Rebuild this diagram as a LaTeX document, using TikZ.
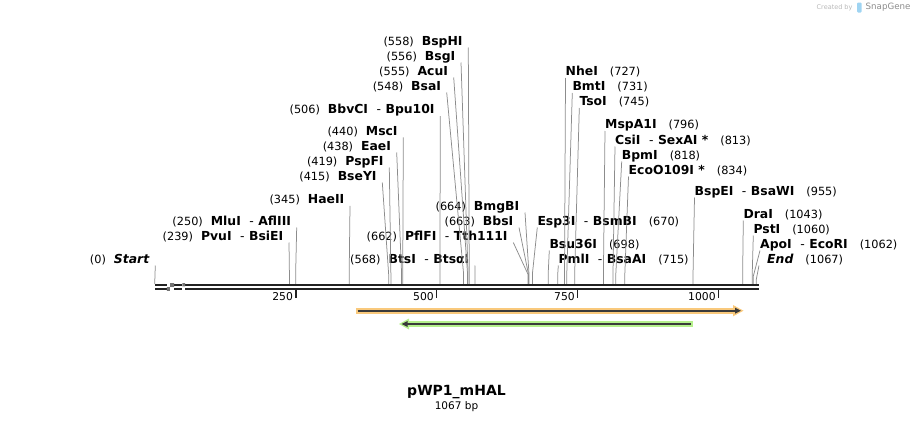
\documentclass[tikz,border=0pt]{standalone}
\usepackage{fontspec}
\setmainfont{DejaVu Sans}
\usetikzlibrary{arrows.meta,patterns}
\definecolor{rulerblack}{HTML}{222222}
\definecolor{cutgray}{HTML}{8C8C8C}
\definecolor{featorange}{HTML}{F9C97C}
\definecolor{featgreen}{HTML}{B5F08C}
\definecolor{featline}{HTML}{3A3A3A}
\definecolor{sgblue}{HTML}{9FD4F2}
\newcommand{\bpx}[1]{154.7+0.5637*#1}
\newcommand{\cutpos}[1]{{\fontsize{11.3}{13}\selectfont\mdseries(#1)}}
\newcommand{\enz}[1]{\textbf{#1}}
\newcommand{\sepr}{\hspace{8.5pt}-\hspace{4.5pt}}
\tikzset{
  cut/.style={draw=cutgray,line width=0.75pt},
  leftsite/.style={anchor=south east,inner xsep=5.5pt,inner ysep=0pt,text depth=2pt,font=\fontsize{12.4}{14}\selectfont},
  rightsite/.style={anchor=south west,inner xsep=0pt,inner ysep=0pt,text depth=2pt,font=\fontsize{12.4}{14}\selectfont},
  ruler/.style={draw=rulerblack,line width=2.4pt},
  tick/.style={draw=rulerblack,line width=1.8pt},
}
\begin{document}
\begin{tikzpicture}[x=1pt,y=-1pt]
\useasboundingbox (0,0) rectangle (914,423);
% sites on the sequence
\foreach \b in {0,239,250,345,415,419,438,440,506,548,555,556,558,568,662,663,664,670,698,715,727,731,745,796,813,818,834,955,1043,1060,1062,1067}
  \coordinate (s\b) at ({\bpx{\b}},284);
% left hand labels
\node[leftsite] (bsphi) at (468.3,47.5) {\cutpos{558}\hspace{8pt}\enz{BspHI}};
\node[leftsite] (bsgi) at (461,62.5) {\cutpos{556}\hspace{8pt}\enz{BsgI}};
\node[leftsite] (acui) at (453.7,77.5) {\cutpos{555}\hspace{8pt}\enz{AcuI}};
\node[leftsite] (bsai) at (446.7,92.5) {\cutpos{548}\hspace{8pt}\enz{BsaI}};
\node[leftsite] (bbvci) at (440.3,116) {\cutpos{506}\hspace{8pt}\enz{BbvCI}\sepr\enz{Bpu10I}};
\node[leftsite] (msci) at (403.3,137.3) {\cutpos{440}\hspace{8pt}\enz{MscI}};
\node[leftsite] (eaei) at (396.7,152.5) {\cutpos{438}\hspace{8pt}\enz{EaeI}};
\node[leftsite] (pspfi) at (389.3,167.5) {\cutpos{419}\hspace{8pt}\enz{PspFI}};
\node[leftsite] (bseyi) at (382.3,182.5) {\cutpos{415}\hspace{8pt}\enz{BseYI}};
\node[leftsite] (haeii) at (350,205.8) {\cutpos{345}\hspace{8pt}\enz{HaeII}};
\node[leftsite] (mlui) at (296.7,227.5) {\cutpos{250}\hspace{8pt}\enz{MluI}\sepr\enz{AflIII}};
\node[leftsite] (pvui) at (289,242.5) {\cutpos{239}\hspace{8pt}\enz{PvuI}\sepr\enz{BsiEI}};
\node[leftsite] (start) at (155.3,265.5) {\cutpos{0}\hspace{8pt}\enz{\itshape Start}};
\node[leftsite] (bmgbi) at (525,212.5) {\cutpos{664}\hspace{8pt}\enz{BmgBI}};
\node[leftsite] (bbsi) at (519,227.5) {\cutpos{663}\hspace{8pt}\enz{BbsI}};
\node[leftsite] (pflfi) at (513.3,242.5) {\cutpos{662}\hspace{8pt}\enz{PflFI}\sepr\enz{Tth111I}};
\node[leftsite] (btsi) at (475,265.5) {\cutpos{568}\hspace{8pt}\enz{BtsI}\sepr\enz{BtsαI}};
% right hand labels
\node[rightsite] (nhei) at (565.5,78) {\enz{NheI}\hspace{12pt}\cutpos{727}};
\node[rightsite] (bmti) at (572.3,93) {\enz{BmtI}\hspace{12pt}\cutpos{731}};
\node[rightsite] (tsoi) at (579.3,108) {\enz{TsoI}\hspace{12pt}\cutpos{745}};
\node[rightsite] (mspa) at (605,131) {\enz{MspA1I}\hspace{12pt}\cutpos{796}};
\node[rightsite] (csii) at (615,146.5) {\enz{CsiI}\sepr\enz{SexAI *}\hspace{12pt}\cutpos{813}};
\node[rightsite] (bpmi) at (621.7,161.5) {\enz{BpmI}\hspace{12pt}\cutpos{818}};
\node[rightsite] (ecoo) at (628.5,176.5) {\enz{EcoO109I *}\hspace{12pt}\cutpos{834}};
\node[rightsite] (bspei) at (694.5,197.5) {\enz{BspEI}\sepr\enz{BsaWI}\hspace{12pt}\cutpos{955}};
\node[rightsite] (esp) at (537.3,227.5) {\enz{Esp3I}\sepr\enz{BsmBI}\hspace{12pt}\cutpos{670}};
\node[rightsite] (bsui) at (549.3,250.5) {\enz{Bsu36I}\hspace{12pt}\cutpos{698}};
\node[rightsite] (pmli) at (558.3,265.5) {\enz{PmlI}\sepr\enz{BsaAI}\hspace{12pt}\cutpos{715}};
\node[rightsite] (drai) at (743.3,220.5) {\enz{DraI}\hspace{12pt}\cutpos{1043}};
\node[rightsite] (psti) at (753.3,235.5) {\enz{PstI}\hspace{12pt}\cutpos{1060}};
\node[rightsite] (apoi) at (760,250.5) {\enz{ApoI}\sepr\enz{EcoRI}\hspace{12pt}\cutpos{1062}};
\node[rightsite] (endsite) at (767,265.5) {\enz{\itshape End}\hspace{12pt}\cutpos{1067}};
% connectors
\draw[cut] (bsphi.south east) -- ([yshift=10pt]s558) -- (s558);
\draw[cut] (bsgi.south east) -- ([yshift=10pt]s556) -- (s556);
\draw[cut] (acui.south east) -- ([yshift=10pt]s555) -- (s555);
\draw[cut] (bsai.south east) -- ([yshift=10pt]s548) -- (s548);
\draw[cut] (bbvci.south east) -- ([yshift=10pt]s506) -- (s506);
\draw[cut] (msci.south east) -- ([yshift=10pt]s440) -- (s440);
\draw[cut] (eaei.south east) -- ([yshift=10pt]s438) -- (s438);
\draw[cut] (pspfi.south east) -- ([yshift=10pt]s419) -- (s419);
\draw[cut] (bseyi.south east) -- ([yshift=10pt]s415) -- (s415);
\draw[cut] (haeii.south east) -- ([yshift=10pt]s345) -- (s345);
\draw[cut] (mlui.south east) -- ([yshift=10pt]s250) -- (s250);
\draw[cut] (pvui.south east) -- ([yshift=10pt]s239) -- (s239);
\draw[cut] (start.south east) -- (s0);
\draw[cut] (bmgbi.south east) -- ([yshift=10pt]s664) -- (s664);
\draw[cut] (bbsi.south east) -- ([yshift=10pt]s663) -- (s663);
\draw[cut] (pflfi.south east) -- ([yshift=10pt]s662) -- (s662);
\draw[cut] (btsi.south east) -- ([yshift=10pt]s568) -- (s568);
\draw[cut] (nhei.south west) -- ([yshift=10pt]s727) -- (s727);
\draw[cut] (bmti.south west) -- ([yshift=10pt]s731) -- (s731);
\draw[cut] (tsoi.south west) -- ([yshift=10pt]s745) -- (s745);
\draw[cut] (mspa.south west) -- ([yshift=10pt]s796) -- (s796);
\draw[cut] (csii.south west) -- ([yshift=10pt]s813) -- (s813);
\draw[cut] (bpmi.south west) -- ([yshift=10pt]s818) -- (s818);
\draw[cut] (ecoo.south west) -- ([yshift=10pt]s834) -- (s834);
\draw[cut] (bspei.south west) -- ([yshift=10pt]s955) -- (s955);
\draw[cut] (esp.south west) -- ([yshift=10pt]s670) -- (s670);
\draw[cut] (bsui.south west) -- ([yshift=10pt]s698) -- (s698);
\draw[cut] (pmli.south west) -- ([yshift=10pt]s715) -- (s715);
\draw[cut] (drai.south west) -- ([yshift=10pt]s1043) -- (s1043);
\draw[cut] (psti.south west) -- ([yshift=10pt]s1060) -- (s1060);
\draw[cut] (apoi.south west) -- ([yshift=8pt]s1062) -- (s1062);
\draw[cut] ([xshift=-8pt]endsite.south west) -- ([yshift=4pt]s1067) -- (s1067);
% the sequence
\draw[ruler] (155,285.2) -- (759,285.2);
\draw[ruler] (155,289.2) -- (759,289.2);
\fill[white] (166.8,283.8) rectangle (174,290.6);
\fill[pattern=checkerboard,pattern color=black!55] (166.8,283.8) rectangle (174,290.6);
\fill[white] (182.3,283.8) rectangle (185,290.6);
\fill[pattern=checkerboard,pattern color=black!55] (182.3,283.8) rectangle (185,290.6);
\foreach \t in {250,500,750,1000} {
  \draw[tick] ({\bpx{\t}},289.5) -- ++(0,8.5);
  \node[anchor=east,inner sep=0pt,font=\fontsize{10.8}{12}\selectfont] (t\t) at ({\bpx{\t}-2.5},296.5) {\t};
}
% features
\fill[featorange] (356,307.8) rectangle (735,313.6);
\fill[featorange] (733,305) -- (743.5,310.7) -- (733,316.4) -- cycle;
\draw[featline,line width=1.6pt,-{Triangle[length=6pt,width=5.5pt]}] (357.5,310.7) -- (741,310.7);
\fill[featgreen] (407,321.3) rectangle (692.5,326.7);
\fill[featgreen] (409,318.5) -- (399,324) -- (409,329.5) -- cycle;
\draw[featline,line width=1.6pt,-{Triangle[length=6pt,width=5.5pt]}] (690.5,324) -- (401.5,324);
% name and size
\node[font=\bfseries\fontsize{14}{16}\selectfont,inner sep=0pt] (title) at (456.5,392) {pWP1\_mHAL};
\node[font=\fontsize{10.5}{12}\selectfont,inner sep=0pt] (size) at (456.5,406.5) {1067 bp};
% credit
\node[anchor=west,inner sep=0pt,text=black!28,font=\fontsize{6.5}{8}\selectfont] (madeby) at (816.5,7.5) {Created by};
\fill[sgblue,rounded corners=1pt] (857,2.5) rectangle (861.5,12.5);
\node[anchor=west,inner sep=0pt,text=black!45,font=\fontsize{8.7}{10}\selectfont] (sgname) at (865.5,7.5) {SnapGene};
\end{tikzpicture}
\end{document}
